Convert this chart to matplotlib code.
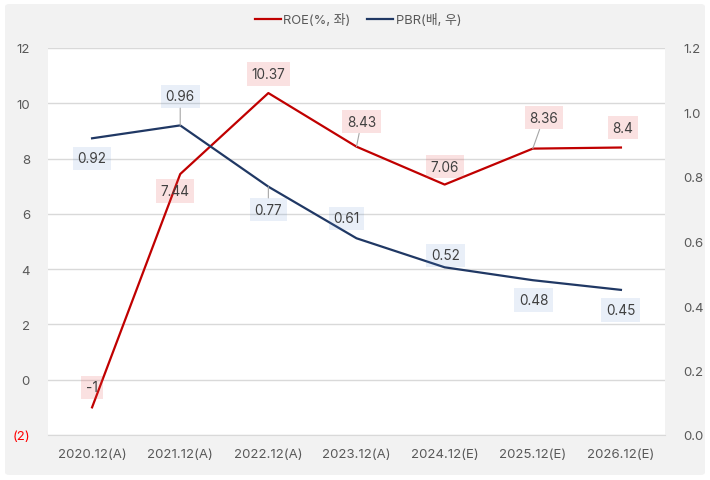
import matplotlib
matplotlib.use("Agg")
import matplotlib.pyplot as plt
from matplotlib.patches import FancyBboxPatch
from matplotlib.lines import Line2D

plt.rcParams['font.family'] = ['Inter', 'Noto Sans CJK KR', 'DejaVu Sans']

categories = ["2020.12(A)", "2021.12(A)", "2022.12(A)", "2023.12(A)", "2024.12(E)", "2025.12(E)", "2026.12(E)"]
roe = [-1, 7.44, 10.37, 8.43, 7.06, 8.36, 8.4]
pbr = [0.92, 0.96, 0.77, 0.61, 0.52, 0.48, 0.45]
roe_labels = ["-1", "7.44", "10.37", "8.43", "7.06", "8.36", "8.4"]
pbr_labels = ["0.92", "0.96", "0.77", "0.61", "0.52", "0.48", "0.45"]
left_ticks = [-2, 0, 2, 4, 6, 8, 10, 12]
right_ticks = [0.0, 0.2, 0.4, 0.6, 0.8, 1.0, 1.2]

# label offsets in pixels (dx, dy) and whether a leader line is drawn
roe_off = [(0, 20, False), (-5, -17, False), (0, 19, False), (5, 25, True),
           (0, 18, False), (11, 31, True), (2, 20, False)]
pbr_off = [(0, -20, False), (0, 29, True), (0, -23, True), (-10, 20, False),
           (1, 12, False), (1, -20, False), (0, -20, False)]

RED = "#C00000"
NAVY = "#203864"
TXT = "#404040"
TICK = "#595959"

fig = plt.figure(figsize=(7.10, 4.81), dpi=100)
fig.patch.set_facecolor("white")
bg = FancyBboxPatch((5 / 710, 5 / 481), 700 / 710, 471 / 481,
                    boxstyle="round,pad=0,rounding_size=0.006",
                    transform=fig.transFigure, facecolor="#F2F2F2",
                    edgecolor="none", zorder=-10)
fig.patches.append(bg)

ax = fig.add_axes([48 / 710, 1 - 436 / 481, 617 / 710, 387 / 481])
ax.set_facecolor("white")
ax2 = ax.twinx()

x = list(range(len(categories)))
ax.set_xlim(-0.5, len(categories) - 0.5)
ax.set_ylim(-2, 12)
ax2.set_ylim(0, 1.2)

ax.set_yticks(left_ticks)
ax.set_yticklabels([f"({abs(v)})" if v < 0 else str(v) for v in left_ticks])
for lbl, v in zip(ax.get_yticklabels(), left_ticks):
    lbl.set_color("#FF0000" if v < 0 else TICK)
ax2.set_yticks(right_ticks)
ax2.set_yticklabels([f"{v:.1f}" for v in right_ticks], color=TICK)
ax.set_xticks(x)
ax.set_xticklabels(categories, color=TICK)

ax.tick_params(axis='y', length=0, pad=13, labelsize=9.5)
ax2.tick_params(axis='y', length=0, pad=13, labelsize=9.5)
ax.tick_params(axis='x', length=0, pad=9, labelsize=9.5)

ax.grid(axis='y', color="#D9D9D9", linewidth=1)
ax.set_axisbelow(True)
for a in (ax, ax2):
    for s in a.spines.values():
        s.set_visible(False)
ax.spines['bottom'].set_visible(True)
ax.spines['bottom'].set_color("#D9D9D9")

ax.plot(x, roe, color=RED, linewidth=1.6, zorder=3)
ax2.plot(x, pbr, color=NAVY, linewidth=1.6, zorder=3)


def annotate(a, xs, ys, labels, offs, face):
    for xi, yi, lab, (dx, dy, leader) in zip(xs, ys, labels, offs):
        kw = {}
        if leader:
            kw['arrowprops'] = dict(arrowstyle='-', color="#A6A6A6", lw=0.8,
                                    shrinkA=0, shrinkB=0)
        a.annotate(lab, (xi, yi), xytext=(dx * 0.72, dy * 0.72),
                   textcoords='offset points', ha='center', va='center',
                   fontsize=9.8, color=TXT, zorder=5,
                   bbox=dict(boxstyle='square,pad=0.35', facecolor=face,
                             edgecolor='none'), **kw)


annotate(ax, x, roe, roe_labels, roe_off, (230 / 255, 80 / 255, 80 / 255, 0.17))
annotate(ax2, x, pbr, pbr_labels, pbr_off, (80 / 255, 130 / 255, 200 / 255, 0.126))

handles = [Line2D([], [], color=RED, lw=1.6), Line2D([], [], color=NAVY, lw=1.6)]
fig.legend(handles, ["ROE(%, 좌)", "PBR(배, 우)"], loc='center',
           bbox_to_anchor=(358 / 710, 1 - 21 / 481), ncol=2, frameon=False,
           fontsize=9.3, handlelength=2.0, handletextpad=0.2, columnspacing=1.3,
           labelcolor=TICK)

fig.savefig("out.png", dpi=100, facecolor=fig.get_facecolor())
